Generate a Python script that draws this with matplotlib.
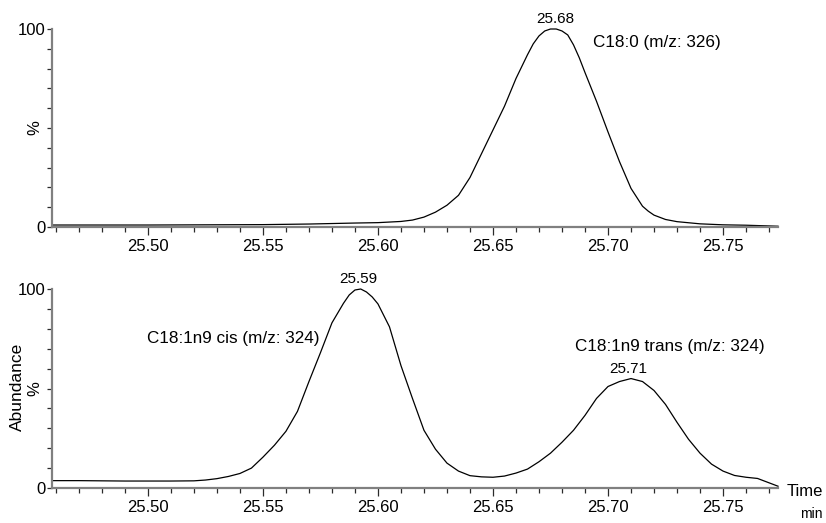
import matplotlib
matplotlib.use("Agg")
import matplotlib.pyplot as plt
from matplotlib.ticker import MultipleLocator, FixedLocator, NullFormatter, FormatStrFormatter

plt.rcParams['font.family'] = ['Liberation Sans', 'DejaVu Sans']

# Retention time (min) and relative abundance (%) for the two ion chromatograms
time_top = [25.4583, 25.50, 25.55, 25.57, 25.59, 25.60, 25.61, 25.615, 25.62,
            25.625, 25.63, 25.635, 25.64, 25.645, 25.65, 25.655, 25.66, 25.665,
            25.6675, 25.67, 25.6725, 25.675, 25.6775, 25.68, 25.6825, 25.685,
            25.6875, 25.69, 25.695, 25.70, 25.705, 25.71, 25.715, 25.7175,
            25.72, 25.725, 25.73, 25.74, 25.75, 25.76, 25.7739]
abund_top = [1.0, 1.0, 1.2, 1.5, 2.0, 2.2, 2.8, 3.5, 5.0,
             7.5, 11.0, 16.0, 25.0, 37.0, 49.0, 61.0, 75.0, 87.0,
             92.5, 96.5, 99.0, 100.0, 100.0, 99.0, 97.0, 92.0,
             85.5, 78.0, 63.5, 48.0, 33.0, 19.5, 10.5, 8.0,
             6.0, 3.8, 2.7, 1.6, 1.1, 0.9, 0.4]

time_bot = [25.4583, 25.47, 25.48, 25.49, 25.50, 25.51, 25.52, 25.525, 25.53,
            25.535, 25.54, 25.545, 25.55, 25.555, 25.56, 25.565, 25.57, 25.575,
            25.58, 25.585, 25.5875, 25.59, 25.5925, 25.595, 25.5975, 25.60,
            25.605, 25.61, 25.615, 25.62, 25.625, 25.63, 25.635, 25.64, 25.645,
            25.65, 25.655, 25.66, 25.665, 25.67, 25.675, 25.68, 25.685, 25.69,
            25.695, 25.70, 25.705, 25.71, 25.715, 25.72, 25.725, 25.73, 25.735,
            25.74, 25.745, 25.75, 25.755, 25.76, 25.765, 25.7739]
abund_bot = [3.7, 3.7, 3.6, 3.5, 3.5, 3.5, 3.6, 4.0, 4.7,
             5.8, 7.3, 10.0, 15.5, 21.5, 28.5, 38.5, 53.5, 68.0,
             83.0, 92.8, 97.0, 99.5, 100.0, 98.5, 96.0, 92.5,
             81.0, 61.5, 45.0, 29.0, 19.5, 12.5, 8.5, 6.2, 5.6,
             5.4, 6.0, 7.5, 9.5, 13.2, 17.5, 23.0, 29.0, 36.5,
             45.0, 51.0, 53.5, 55.0, 53.5, 49.0, 42.0, 33.0, 24.5,
             17.5, 12.0, 8.5, 6.3, 5.4, 4.8, 0.9]

# Peak annotations: (time, abundance, text)
peaks_top = [(25.677, 100.0, "25.68")]
peaks_bot = [(25.5915, 100.0, "25.59"), (25.7087, 55.0, "25.71")]

compound_top = "C18:0 (m/z: 326)"
compound_cis = "C18:1n9 cis (m/z: 324)"
compound_trans = "C18:1n9 trans (m/z: 324)"

xmin, xmax = 25.4583, 25.7739
W, H = 826, 523
fig = plt.figure(figsize=(W / 100, H / 100), dpi=100)

def px_axes(left, right, top, bottom):
    return fig.add_axes([left / W, 1 - bottom / H, (right - left) / W, (bottom - top) / H])

ax_top = px_axes(52, 778, 29, 227)
ax_bot = px_axes(52, 778, 289, 488)

spine_col = '#808080'
tick_col = '#2a2a2a'

for ax in (ax_top, ax_bot):
    ax.set_xlim(xmin, xmax)
    ax.set_ylim(0, 100)
    for s in ('top', 'right'):
        ax.spines[s].set_visible(False)
    for s in ('left', 'bottom'):
        ax.spines[s].set_color(spine_col)
        ax.spines[s].set_linewidth(1.6)
    ax.xaxis.set_major_locator(FixedLocator([25.50, 25.55, 25.60, 25.65, 25.70, 25.75]))
    ax.xaxis.set_minor_locator(MultipleLocator(0.01))
    ax.xaxis.set_major_formatter(FormatStrFormatter('%.2f'))
    ax.yaxis.set_major_locator(FixedLocator([0, 100]))
    ax.yaxis.set_minor_locator(FixedLocator([10, 20, 30, 40, 50, 60, 70, 80, 90]))
    ax.yaxis.set_minor_formatter(NullFormatter())
    ax.tick_params(axis='x', which='major', direction='out', length=6, width=0.9,
                   color=tick_col, labelsize=12, pad=3)
    ax.tick_params(axis='x', which='minor', direction='out', length=3.5, width=0.9,
                   color=tick_col)
    ax.tick_params(axis='y', which='both', direction='out', length=3.5, width=0.9,
                   color=tick_col, labelsize=12, pad=1)
    ax.set_ylabel('%', fontsize=12)
    ax.yaxis.set_label_coords(-10 / 726, 0.5)

ax_top.plot(time_top, abund_top, color='black', lw=0.9, clip_on=False)
ax_bot.plot(time_bot, abund_bot, color='black', lw=0.9, clip_on=False)

for t, a, s in peaks_top:
    ax_top.text(t, a + 1.5, s, ha='center', va='bottom', fontsize=11)
for t, a, s in peaks_bot:
    ax_bot.text(t, a + 1.5, s, ha='center', va='bottom', fontsize=11)

ax_top.text(25.6935, 93, compound_top, ha='left', va='center', fontsize=12.3)
ax_bot.text(25.4996, 75, compound_cis, ha='left', va='center', fontsize=12.3)
ax_bot.text(25.6857, 71, compound_trans, ha='left', va='center', fontsize=12.3)

fig.text(17.5 / W, 1 - 387 / H, 'Abundance', rotation=90, ha='center', va='center', fontsize=12.5)
fig.text(787 / W, 1 - 491 / H, 'Time', ha='left', va='center', fontsize=12)
fig.text(800 / W, 1 - 514 / H, 'min', ha='left', va='center', fontsize=10)

fig.savefig('out.png', dpi=100)
